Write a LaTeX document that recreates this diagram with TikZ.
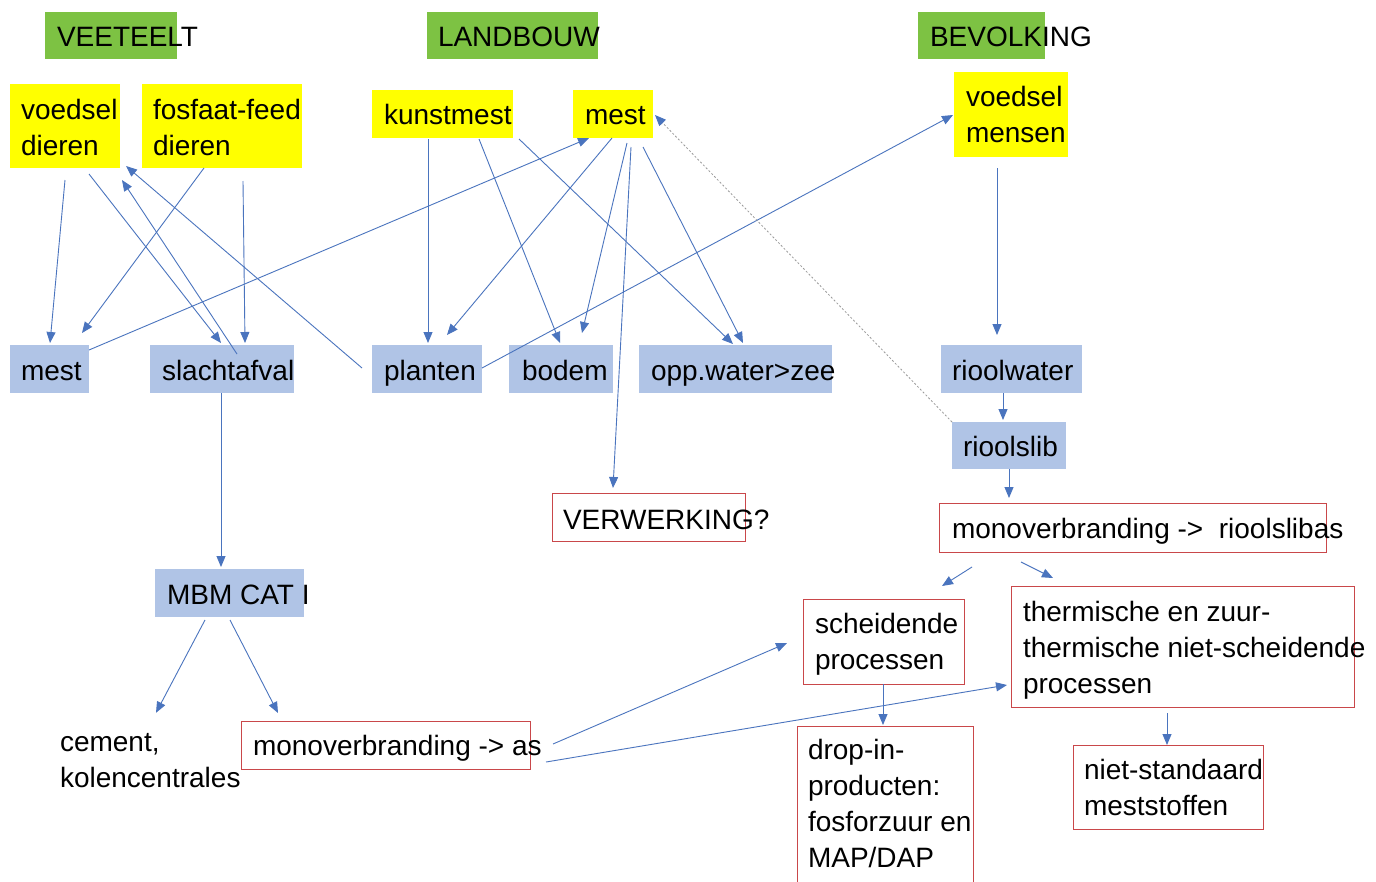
\documentclass[tikz,border=0pt]{standalone}
\usepackage{fontspec}
\setmainfont{Liberation Sans}
\usetikzlibrary{arrows.meta}
\definecolor{vgreen}{HTML}{7DC243}
\definecolor{vyellow}{HTML}{FFFF00}
\definecolor{vblue}{HTML}{B0C4E6}
\definecolor{vred}{HTML}{C9474A}
\definecolor{varrow}{HTML}{4A74BE}
\definecolor{vdot}{HTML}{9A9A9A}
\begin{document}
\begin{tikzpicture}[x=1pt,y=-1pt,
 box/.style={anchor=north west, inner sep=0pt, outer sep=0pt},
 gbox/.style={box, fill=vgreen},
 ybox/.style={box, fill=vyellow},
 bbox/.style={box, fill=vblue},
 rbox/.style={box, draw=vred, line width=1pt},
 txt/.style={anchor=north west, yshift=25.2pt, inner sep=0pt, outer sep=0pt, align=left,
   font=\fontsize{28}{36}\selectfont, execute at begin node=\strut},
 mtxt/.style={txt, yshift=-4pt},
 arr/.style={draw=varrow, line width=0.9pt, -{Triangle[length=11pt,width=9pt]}},
 dotarr/.style={draw=vdot, line width=0.8pt, dash pattern=on 2pt off 2pt,
   -{Triangle[length=11pt,width=9pt,color=varrow]}}
]
\useasboundingbox (0,0) rectangle (1376,881);
\fill[white] (0,0) rectangle (1376,881);

% boxes
\node[gbox, minimum width=132pt, minimum height=47pt] (gVee) at (45,12) {};
\node[gbox, minimum width=171pt, minimum height=47pt] (gLand) at (427,12) {};
\node[gbox, minimum width=127pt, minimum height=47pt] (gBev) at (918,12) {};
\node[ybox, minimum width=110pt, minimum height=84pt] (yVd) at (10,84) {};
\node[ybox, minimum width=160pt, minimum height=84pt] (yFf) at (142,84) {};
\node[ybox, minimum width=141pt, minimum height=48pt] (yKm) at (372,90) {};
\node[ybox, minimum width=80pt, minimum height=48pt] (yMe) at (573,90) {};
\node[ybox, minimum width=114pt, minimum height=85pt] (yVm) at (954,72) {};
\node[bbox, minimum width=79pt, minimum height=48pt] (bMe) at (10,345) {};
\node[bbox, minimum width=144pt, minimum height=48pt] (bSl) at (150,345) {};
\node[bbox, minimum width=110pt, minimum height=48pt] (bPl) at (372,345) {};
\node[bbox, minimum width=104pt, minimum height=48pt] (bBo) at (509,345) {};
\node[bbox, minimum width=193pt, minimum height=48pt] (bOw) at (639,345) {};
\node[bbox, minimum width=141pt, minimum height=48pt] (bRw) at (941,345) {};
\node[bbox, minimum width=114pt, minimum height=47pt] (bRs) at (952,422) {};
\node[bbox, minimum width=149pt, minimum height=48pt] (bMb) at (155,569) {};
\node[rbox, minimum width=193pt, minimum height=48pt] (rVw) at (552,493) {};
\node[rbox, minimum width=387pt, minimum height=49pt] (rMr) at (939,503) {};
\node[rbox, minimum width=161pt, minimum height=85pt] (rSc) at (803,599) {};
\node[rbox, minimum width=343pt, minimum height=121pt] (rTh) at (1011,586) {};
\node[rbox, minimum width=176pt, minimum height=170pt] (rDr) at (797,726) {};
\node[rbox, minimum width=190pt, minimum height=84pt] (rNs) at (1073,745) {};
\node[rbox, minimum width=289pt, minimum height=48pt] (rMa) at (241,721) {};

% texts
\node[txt] (tVee) at (57,46) {VEETEELT};
\node[txt] (tLand) at (438,46) {LANDBOUW};
\node[txt] (tBev) at (930,46) {BEVOLKING};
\node[mtxt] (tVd) at (21,120) {voedsel\\dieren};
\node[mtxt] (tFf) at (153,120) {fosfaat-feed\\dieren};
\node[txt] (tKm) at (384,124) {kunstmest};
\node[txt] (tMe) at (585,124) {mest};
\node[mtxt] (tVm) at (966,107) {voedsel\\mensen};
\node[txt] (tbMe) at (21,380) {mest};
\node[txt] (tSl) at (162,380) {slachtafval};
\node[txt] (tPl) at (384,380) {planten};
\node[txt] (tBo) at (522,380) {bodem};
\node[txt] (tOw) at (651,380) {opp.water>zee};
\node[txt] (tRw) at (952,380) {rioolwater};
\node[txt] (tRs) at (963,456) {rioolslib};
\node[txt] (tVw) at (563,529) {VERWERKING?};
\node[txt] (tMr) at (952,538) {monoverbranding ->\ \ rioolslibas};
\node[mtxt] (tSc) at (815,634) {scheidende\\processen};
\node[mtxt] (tTh) at (1023,622) {thermische en zuur-\\thermische niet-scheidende\\processen};
\node[mtxt] (tDr) at (808,760) {drop-in-\\producten:\\fosforzuur en\\MAP/DAP};
\node[mtxt] (tNs) at (1084,780) {niet-standaard\\meststoffen};
\node[txt] (tMb) at (167,604) {MBM CAT I};
\node[txt] (tMa) at (253,755) {monoverbranding -> as};
\node[mtxt] (tCe) at (60,755) {cement,\\kolencentrales};

% connectors
\draw[arr] ([shift={(55,12)}]yVd.south west) -- ([shift={(40,-2)}]bMe.north west);
\draw[arr] ([shift={(79,6)}]yVd.south west) -- ([shift={(71,-2)}]bSl.north west);
\draw[arr] ([shift={(87,9)}]bSl.north west) -- ([shift={(2,12)}]yVd.south east);
\draw[arr] ([shift={(-10,23)}]bPl.north west) -- ([shift={(6,-2)}]yVd.south east);
\draw[arr] ([shift={(62,0)}]yFf.south west) -- ([shift={(72,-12)}]bMe.north west);
\draw[arr] ([shift={(101,13)}]yFf.south west) -- ([shift={(95,-2)}]bSl.north west);
\draw[arr] ([shift={(0,5)}]bMe.north east) -- ([shift={(16,0)}]yMe.south west);
\draw[arr] ([shift={(56,1)}]yKm.south west) -- ([shift={(56,-2)}]bPl.north west);
\draw[arr] ([shift={(107,1)}]yKm.south west) -- ([shift={(51,-2)}]bBo.north west);
\draw[arr] ([shift={(6,1)}]yKm.south east) -- ([shift={(94,-1)}]bOw.north west);
\draw[arr] ([shift={(39,0)}]yMe.south west) -- ([shift={(75,-10)}]bPl.north west);
\draw[arr] ([shift={(54,5)}]yMe.south west) -- ([shift={(73,-12)}]bBo.north west);
\draw[arr] ([shift={(58,9)}]yMe.south west) -- ([shift={(61,-5)}]rVw.north west);
\draw[arr] ([shift={(70,9)}]yMe.south west) -- ([shift={(104,-2)}]bOw.north west);
\draw[arr] ([shift={(0,23)}]bPl.north east) -- ([shift={(-1,43)}]yVm.north west);
\draw[dotarr] (bRs.north west) -- ([shift={(2,25)}]yMe.north east);
\draw[arr] ([shift={(43,11)}]yVm.south west) -- ([shift={(56,-10)}]bRw.north west);
\draw[arr] ([shift={(62,0)}]bRw.south west) -- ([shift={(51,-2)}]bRs.north west);
\draw[arr] ([shift={(57,0)}]bRs.south west) -- ([shift={(70,-5)}]rMr.north west);
\draw[arr] ([shift={(33,15)}]rMr.south west) -- ([shift={(-22,-13)}]rSc.north east);
\draw[arr] ([shift={(82,10)}]rMr.south west) -- ([shift={(42,-8)}]rTh.north west);
\draw[arr] ([shift={(71,0)}]bSl.south west) -- ([shift={(66,-2)}]bMb.north west);
\draw[arr] ([shift={(50,3)}]bMb.south west) -- ([shift={(96,-21)}]tCe.north west);
\draw[arr] ([shift={(75,3)}]bMb.south west) -- ([shift={(37,-8)}]rMa.north west);
\draw[arr] ([shift={(23,23)}]rMa.north east) -- ([shift={(-16,44)}]rSc.north west);
\draw[arr] ([shift={(16,41)}]rMa.north east) -- ([shift={(-4,99)}]rTh.north west);
\draw[arr] ([shift={(80,0)}]rSc.south west) -- ([shift={(86,-1)}]rDr.north west);
\draw[arr] ([shift={(156,6)}]rTh.south west) -- ([shift={(94,0)}]rNs.north west);
\end{tikzpicture}
\end{document}
